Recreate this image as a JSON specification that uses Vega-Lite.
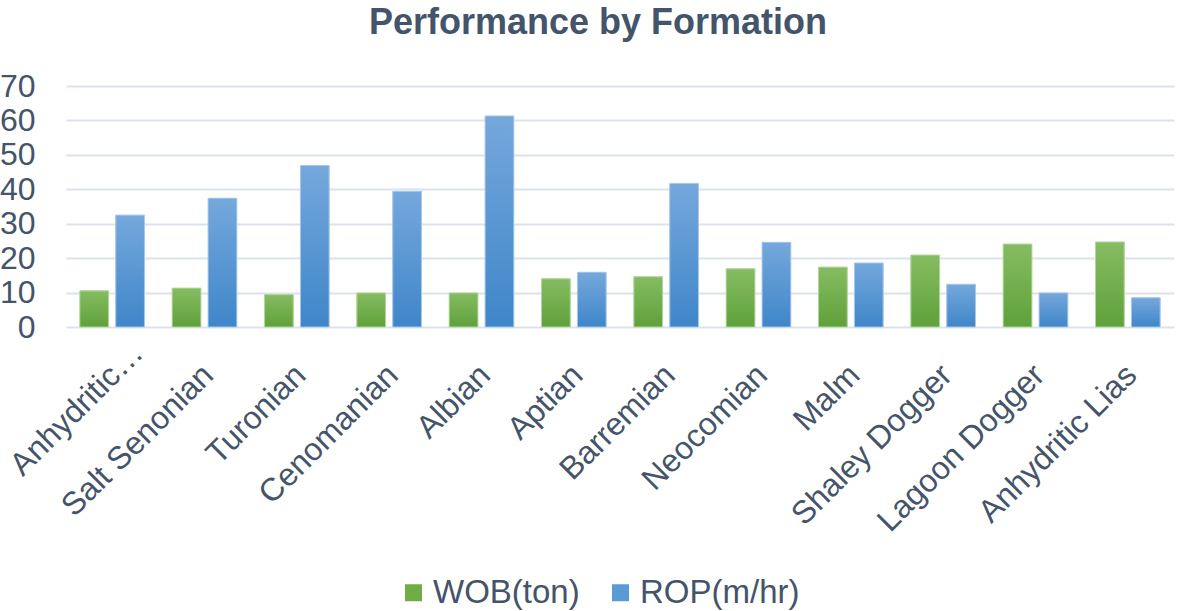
{
  "$schema": "https://vega.github.io/schema/vega-lite/v6.json",
  "width": 1108,
  "height": 241,
  "autosize": "none",
  "padding": {"left": 66, "top": 86, "right": 5, "bottom": 284},
  "background": "white",
  "title": {
    "text": "Performance by Formation",
    "fontSize": 36,
    "font": "Liberation Sans",
    "fontWeight": "bold",
    "color": "#44546A",
    "anchor": "middle",
    "dx": -22,
    "offset": 28
  },
  "data": {
    "values": [
      {"formation": "Anhydritic…", "series": "WOB(ton)", "value": 10.5},
      {"formation": "Anhydritic…", "series": "ROP(m/hr)", "value": 32.5},
      {"formation": "Salt Senonian", "series": "WOB(ton)", "value": 11.3},
      {"formation": "Salt Senonian", "series": "ROP(m/hr)", "value": 37.4},
      {"formation": "Turonian", "series": "WOB(ton)", "value": 9.4},
      {"formation": "Turonian", "series": "ROP(m/hr)", "value": 46.9},
      {"formation": "Cenomanian", "series": "WOB(ton)", "value": 9.9},
      {"formation": "Cenomanian", "series": "ROP(m/hr)", "value": 39.4},
      {"formation": "Albian", "series": "WOB(ton)", "value": 9.9},
      {"formation": "Albian", "series": "ROP(m/hr)", "value": 61.3},
      {"formation": "Aptian", "series": "WOB(ton)", "value": 14.0},
      {"formation": "Aptian", "series": "ROP(m/hr)", "value": 15.9},
      {"formation": "Barremian", "series": "WOB(ton)", "value": 14.6},
      {"formation": "Barremian", "series": "ROP(m/hr)", "value": 41.7},
      {"formation": "Neocomian", "series": "WOB(ton)", "value": 16.9},
      {"formation": "Neocomian", "series": "ROP(m/hr)", "value": 24.6},
      {"formation": "Malm", "series": "WOB(ton)", "value": 17.4},
      {"formation": "Malm", "series": "ROP(m/hr)", "value": 18.6},
      {"formation": "Shaley Dogger", "series": "WOB(ton)", "value": 20.9},
      {"formation": "Shaley Dogger", "series": "ROP(m/hr)", "value": 12.4},
      {"formation": "Lagoon Dogger", "series": "WOB(ton)", "value": 24.1},
      {"formation": "Lagoon Dogger", "series": "ROP(m/hr)", "value": 9.9},
      {"formation": "Anhydritic Lias", "series": "WOB(ton)", "value": 24.7},
      {"formation": "Anhydritic Lias", "series": "ROP(m/hr)", "value": 8.5}
    ]
  },
  "encoding": {
    "x": {
      "field": "formation",
      "type": "nominal",
      "sort": null,
      "scale": {
        "domain": ["Anhydritic…", "Salt Senonian", "Turonian", "Cenomanian", "Albian", "Aptian", "Barremian", "Neocomian", "Malm", "Shaley Dogger", "Lagoon Dogger", "Anhydritic Lias"],
        "paddingInner": 0.3,
        "paddingOuter": 0.15
      },
      "axis": {
        "title": null,
        "labelAngle": -45,
        "labelFontSize": 32,
        "labelFont": "Liberation Sans",
        "labelColor": "#44546A",
        "ticks": false,
        "domain": false,
        "grid": false,
        "labelPadding": {"condition": {"test": "datum.value === 'Anhydritic…'", "value": 10}, "value": 32},
        "labelOffset": {"condition": {"test": "datum.value === 'Anhydritic…'", "value": 15}, "value": -7},
        "labelLimit": 500
      }
    },
    "xOffset": {
      "field": "series",
      "type": "nominal",
      "sort": null,
      "scale": {"domain": ["WOB(ton)", "ROP(m/hr)"], "paddingInner": 0.2, "paddingOuter": 0}
    },
    "y": {
      "field": "value",
      "type": "quantitative",
      "scale": {"domain": [0, 70], "nice": false},
      "axis": {
        "title": null,
        "values": [0, 10, 20, 30, 40, 50, 60, 70],
        "labelFontSize": 32,
        "labelFont": "Liberation Sans",
        "labelColor": "#44546A",
        "ticks": false,
        "domain": false,
        "grid": true,
        "gridColor": "#DCE2EC",
        "gridWidth": 2,
        "labelPadding": 31
      }
    }
  },
  "layer": [
    {
      "mark": {"type": "bar"},
      "encoding": {
        "color": {
          "field": "series",
          "type": "nominal",
          "scale": {"domain": ["WOB(ton)", "ROP(m/hr)"], "range": ["#70AD47", "#5B9BD5"]},
          "legend": {
            "title": null,
            "orient": "none",
            "direction": "horizontal",
            "legendX": 331,
            "legendY": 490,
            "symbolType": "square",
            "symbolSize": 289,
            "symbolStrokeWidth": 0,
            "labelFontSize": 33,
            "labelFont": "Liberation Sans",
            "labelColor": "#44546A",
            "labelOffset": 3,
            "columnPadding": 24
          }
        }
      }
    },
    {
      "transform": [{"filter": "datum.series === 'WOB(ton)'"}],
      "mark": {
        "type": "bar",
        "fill": {
          "gradient": "linear", "x1": 0, "y1": 0, "x2": 0, "y2": 1,
          "stops": [{"offset": 0, "color": "#86BC62"}, {"offset": 1, "color": "#5FA13A"}]
        },
        "stroke": "#B5D69E",
        "strokeWidth": 1
      }
    },
    {
      "transform": [{"filter": "datum.series === 'ROP(m/hr)'"}],
      "mark": {
        "type": "bar",
        "fill": {
          "gradient": "linear", "x1": 0, "y1": 0, "x2": 0, "y2": 1,
          "stops": [{"offset": 0, "color": "#75A8DC"}, {"offset": 1, "color": "#3F86C9"}]
        },
        "stroke": "#A9C9EA",
        "strokeWidth": 1
      }
    }
  ],
  "config": {"view": {"stroke": null}}
}
